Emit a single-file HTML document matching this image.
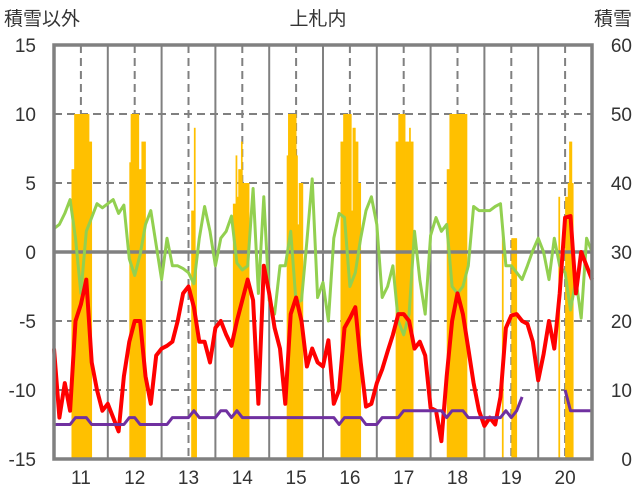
<!DOCTYPE html>
<html><head><meta charset="utf-8"><style>
body{margin:0;background:#fff;}
svg{display:block;font-family:"Liberation Sans","Noto Sans CJK JP",sans-serif;}
</style></head><body>
<svg id="chart" width="636" height="501" viewBox="0 0 636 501">
<text x="318" y="25" font-size="19" text-anchor="middle" fill="#333">上札内</text>
<text x="4" y="25" font-size="19" fill="#333">積雪以外</text>
<text x="632" y="25" font-size="19" text-anchor="end" fill="#333">積雪</text>
<g id="grid"></g>
<g id="bars"></g>
<g id="lines"></g>
<g id="axes"></g>
</svg>
<script>
const years = ["11","12","13","14","15","16","17","18","19","20"];
const leftTicks = [15,10,5,0,-5,-10,-15];
const rightTicks = [60,50,40,30,20,10,0];
const redVals = [-7,-12,-9.5,-11.5,-5,-3.8,-2,-8,-10,-11.5,
 -11,-12,-13,-9,-6.5,-5,-5,-9,-11,-7.5,
 -7,-6.8,-6.5,-5,-3,-2.5,-4,-6.5,-6.5,-8,
 -5.5,-5,-6,-6.8,-5,-3.5,-2,-3.5,-11,-1,
 -3,-5.5,-7,-11,-4.5,-3.3,-5,-8.3,-7,-8,
 -8.3,-6.4,-11,-10,-5.5,-4.8,-4,-8,-11.2,-11,
 -9.5,-8.5,-7.2,-6,-4.5,-4.5,-5,-7,-6.5,-7.5,
 -11.3,-11.5,-13.7,-9,-5,-3,-4.5,-7,-9.5,-11.5,
 -12.6,-12,-12.5,-10.5,-5.5,-4.6,-4.5,-5,-5.2,-6.5,
 -9.3,-7.4,-5,-7,-3,2.5,2.6,-3,0,-1,-2];
const greenVals = [1.7,2,2.8,3.8,1,-3,1.5,2.5,3.5,3.2,
 3.5,3.8,2.8,3.4,-0.5,-1.7,-0.2,2,3,0.5,
 -2,1,-1,-1,-1.2,-1.5,-2.3,1,3.3,1.5,
 -1,1,1.5,2.6,-0.8,-1.3,-1,4.6,-3,4,
 -3.5,-4.5,-1,-1,1.5,-3.7,-3.5,0.8,5.3,-3.3,
 -2.2,-5,1,2.8,2.5,-2.5,-1.5,1,3,4,
 2,-3.3,-2.5,-1,-5,-6,-4.5,1.5,-2,-4.5,
 1.2,2.5,1.5,2,-2.5,-3,-2.5,-1,3.3,3,
 3,3,3.3,3.5,-1,-1,-1.5,-2,-1,0.1,
 1,0,-2,1,-1,-1.5,-4.2,-2,-4.8,1,0];
const purpleVals = [-12.5,-12.5,-12.5,-12.5,-12,-12,-12,-12.5,-12.5,-12.5,
 -12.5,-12.5,-12.5,-12.5,-12,-12,-12.5,-12.5,-12.5,-12.5,
 -12.5,-12.5,-12,-12,-12,-12,-11.5,-12,-12,-12,
 -12,-11.5,-11.5,-12,-11.5,-12,-12,-12,-12,-12,
 -12,-12,-12,-12,-12,-12,-12,-12,-12,-12,
 -12,-12,-12,-12.5,-12,-12,-12,-12,-12.5,-12.5,
 -12.5,-12,-12,-12,-12,-11.5,-11.5,-11.5,-11.5,-11.5,
 -11.5,-11.5,-11.5,-12,-11.5,-11.5,-11.5,-12,-12,-12,
 -12,-12,-12,-12,-11.5,-12,-11.5,-10.5,null,null,
 null,null,null,null,null,-10,-11.5,-11.5,-11.5,-11.5,-11.5];
const snowStart = [13,56,102,133,173,213,254,292,333,375];
const snowSeg0 = [42,42,50,50,50,50,50,50,50,50,50,50,50,46,46];
const snowSeg1 = [43,50,50,50,50,50,50,42,42,46,46,46];
const snowSeg2 = [36,36,48,30];
const snowSeg3 = [37,37,44,38,42,42,46,40,40,40,40,40];
const snowSeg4 = [44,50,50,50,50,50,50,44,34,40,40,40];
const snowSeg5 = [46,46,50,50,50,50,50,50,36,48,48,46,46,40,40];
const snowSeg6 = [46,46,50,50,50,50,50,46,46,46,48,46,46];
const snowSeg7 = [42,42,50,50,50,50,50,50,50,50,50,50,50,50,50];
const snowSeg8 = [33,0,0,0,0,0,0,32,32,32,32];
const snowSeg9 = [38,0,0,0,0,38,38,40,46,46,40];
const snowSegs = [snowSeg0,snowSeg1,snowSeg2,snowSeg3,snowSeg4,snowSeg5,snowSeg6,snowSeg7,snowSeg8,snowSeg9];

const NS='http://www.w3.org/2000/svg';
const X0=54, X1=592, Y0=45, Y1=459;
const yL = v => Y1 - (v+15)/30*(Y1-Y0);
const yR = v => Y1 - v/60*(Y1-Y0);
const yearW = (X1-X0)/years.length;
const xIdx = i => X0 + i*(X1-X0)/(redVals.length-1);
const xSnow = u => X0 + u*yearW/40;
function mk(tag, attrs, parent){const e=document.createElementNS(NS,tag);for(const k in attrs)e.setAttribute(k,attrs[k]);parent.appendChild(e);return e;}
const grid=document.getElementById('grid'), bars=document.getElementById('bars'), lines=document.getElementById('lines'), axes=document.getElementById('axes');

leftTicks.forEach(v=>{
  if(v!==15 && v!==-15 && v!==0){
    const l=mk('line',{x1:X0,x2:X1,y1:yL(v),y2:yL(v),stroke:'#808080','stroke-width':2,'stroke-dasharray':'8,5'},grid);
    
    
  }
  const t=mk('text',{x:36,y:yL(v)+7,'font-size':19,'text-anchor':'end',fill:'#333'},axes);
  t.textContent=v;
  
  
});
rightTicks.forEach(v=>{
  const t=mk('text',{x:632,y:yR(v)+7,'font-size':19,'text-anchor':'end',fill:'#333'},axes);
  t.textContent=v;
  
  
});
years.forEach((y,i)=>{
  const xb=X0+i*yearW, xm=xb+yearW/2;
  if(i>0){
    const l=mk('line',{x1:xb,x2:xb,y1:Y0,y2:Y1,stroke:'#808080','stroke-width':2},grid);
    
    
  }
  const d=mk('line',{x1:xm,x2:xm,y1:Y0,y2:Y1,stroke:'#808080','stroke-width':2,'stroke-dasharray':'8,5'},grid);
  
  
  const t=mk('text',{x:xm,y:484,'font-size':19,'text-anchor':'middle',fill:'#333'},axes);
  t.textContent=y;
  
  
});
snowSegs.forEach((seg,s)=>{
  seg.forEach((v,j)=>{
    if(!v) return;
    const u=snowStart[s]+j;
    const r=mk('rect',{x:xSnow(u),y:yR(v),width:yearW/40+0.4,height:yR(0)-yR(v),fill:'#FFC000'},bars);
    
    
  });
});
const zero=mk('line',{x1:X0,x2:X1,y1:yL(0),y2:yL(0),stroke:'#808080','stroke-width':3.5},lines);


function path(vals,color,w,name){
  let d='',pen=false;
  vals.forEach((v,i)=>{ if(v===null){pen=false;return;} d+=(pen?'L':'M')+xIdx(i).toFixed(1)+','+yL(v).toFixed(1); pen=true;});
  const p=mk('path',{d:d,fill:'none',stroke:color,'stroke-width':w,'stroke-linejoin':'round'},lines);
  
  
}
path(greenVals,'#92D050',3,'green-series-line');
path(redVals,'#FF0000',4,'red-series-line');
path(purpleVals,'#7030A0',3,'purple-series-line');
const fr=mk('rect',{x:X0,y:Y0,width:X1-X0,height:Y1-Y0,fill:'none',stroke:'#808080','stroke-width':3.5},axes);


</script>
</body></html>
